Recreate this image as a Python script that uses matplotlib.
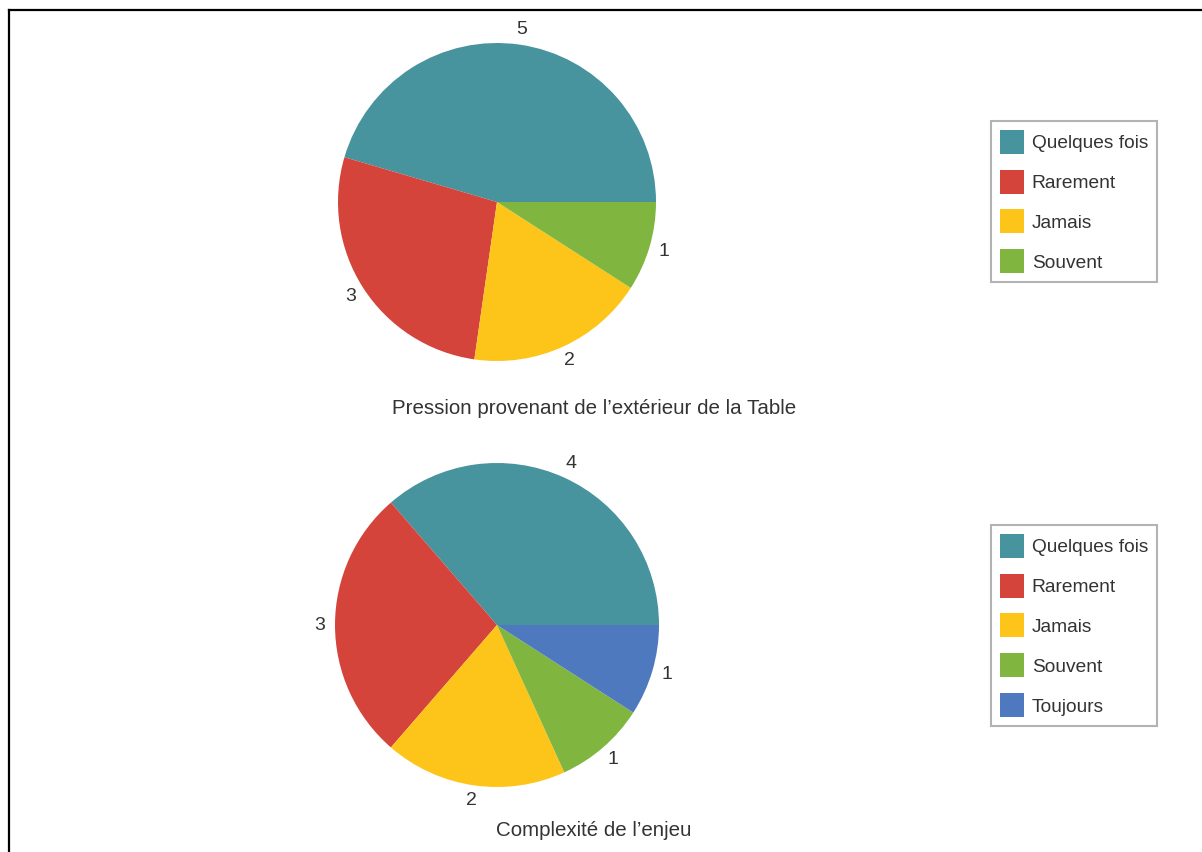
import numpy as np
import matplotlib
matplotlib.use("Agg")
import matplotlib.pyplot as plt
from matplotlib.lines import Line2D
from matplotlib.patches import Patch

# data
titleTop = "Pression provenant de l\u2019extérieur de la Table"
labelsTop = ["Quelques fois", "Rarement", "Jamais", "Souvent"]
valuesTop = [5, 3, 2, 1]

titleBottom = "Complexité de l\u2019enjeu"
labelsBottom = ["Quelques fois", "Rarement", "Jamais", "Souvent", "Toujours"]
valuesBottom = [4, 3, 2, 1, 1]

colorMap = {"Quelques fois": "#47939e", "Rarement": "#d5443b", "Jamais": "#fdc41a",
            "Souvent": "#80b640", "Toujours": "#4e79bf"}

plt.rcParams['font.family'] = ['Liberation Sans', 'DejaVu Sans']
textColor = "#333333"
W, H = 1202, 852

fig = plt.figure(figsize=(W / 100, H / 100), dpi=100)

# frame: only left and top lines are visible in the reference
fig.add_artist(Line2D([9 / W, 9 / W], [0, 1 - 10 / H], transform=fig.transFigure, color="black", lw=1.6))
fig.add_artist(Line2D([9 / W, 1], [1 - 10 / H, 1 - 10 / H], transform=fig.transFigure, color="black", lw=1.6))

def drawPie(labels, values, title, cx, cy, radiusPx, titleY, legendTop):
  half = 220
  ax = fig.add_axes([(cx - half) / W, (H - cy - half) / H, 2 * half / W, 2 * half / H])
  colors = [colorMap[l] for l in labels]
  wedges, _ = ax.pie(values, colors=colors, startangle=0, counterclock=True,
                     radius=1.0, wedgeprops=dict(linewidth=0))
  lim = half / radiusPx
  ax.set_xlim(-lim, lim)
  ax.set_ylim(-lim, lim)
  ax.set_aspect('equal')
  ax.axis('off')
  # value labels just outside each slice
  for w, v in zip(wedges, values):
    ang = np.deg2rad((w.theta1 + w.theta2) / 2)
    ax.text(1.095 * np.cos(ang), 1.095 * np.sin(ang), str(v), ha='center', va='center',
            fontsize=14, color=textColor)
  fig.text(594 / W, 1 - titleY / H, title, ha='center', va='center', fontsize=14.8, color=textColor)
  handles = [Patch(facecolor=c, edgecolor='none') for c in colors]
  leg = fig.legend(handles, labels, loc='upper left', bbox_to_anchor=(991 / W, 1 - legendTop / H),
                   bbox_transform=fig.transFigure, borderaxespad=0, frameon=True, fancybox=False,
                   fontsize=13.8, handlelength=1.25, handleheight=1.55, handletextpad=0.42,
                   labelspacing=0.83, borderpad=0.45, labelcolor=textColor)
  leg.get_frame().set_edgecolor("#a0a0a0")
  leg.get_frame().set_linewidth(1.5)

drawPie(labelsTop, valuesTop, titleTop, 497, 202, 159, 409, 121)
drawPie(labelsBottom, valuesBottom, titleBottom, 497, 625, 162, 831, 525)

fig.savefig("out.png", dpi=100)
